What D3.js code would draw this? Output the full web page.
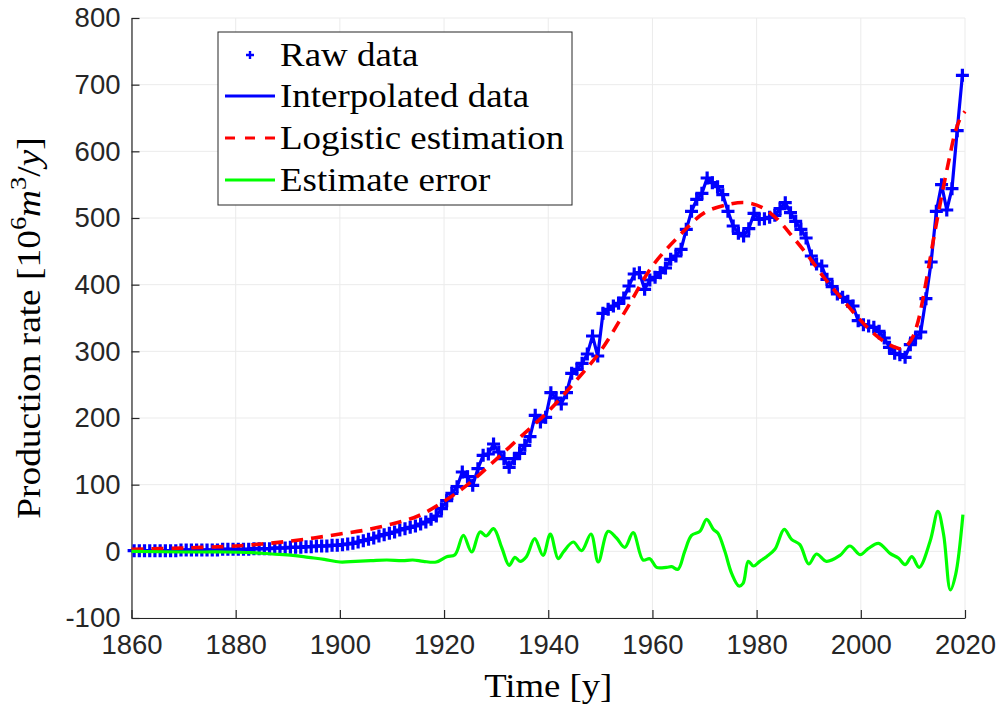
<!DOCTYPE html>
<html>
<head>
<meta charset="utf-8">
<script src="https://cdn.jsdelivr.net/npm/d3@7/dist/d3.min.js"></script>
<style>
  body { margin: 0; background: #fff; }
  .tick text { font-family: 'Liberation Sans', Arial, sans-serif; fill: #262626; }
  .tex { font-family: 'Liberation Serif', 'Times New Roman', serif; fill: #000; }
</style>
</head>
<body>
<div id="viz"></div>
<script>
// raw production data, one value per year (plotted at mid-year)
var rawYears = d3.range(1860, 2020);
var rawValues = [
  1, 1, 1, 1, 1, 1, 1, 1, 1, 2,
  2, 2, 2, 2, 2, 2, 2, 3, 3, 3,
  3, 3, 3, 4, 4, 4, 4, 5, 5, 5,
  6, 6, 6, 7, 7, 8, 8, 8, 9, 9,
  10, 11, 12, 14, 16, 18, 20, 23, 25, 27,
  29, 32, 34, 36, 38, 41, 44, 48, 53, 64,
  76, 87, 97, 119, 112, 99, 124, 144, 146, 161,
  149, 139, 126, 139, 147, 159, 172, 204, 194, 201,
  238, 230, 221, 238, 267, 273, 282, 296, 323, 293,
  357, 363, 368, 372, 380, 398, 416, 418, 393, 407,
  411, 418, 425, 438, 443, 453, 483, 510, 528, 537,
  560, 553, 547, 535, 510, 488, 477, 473, 484, 507,
  498, 499, 501, 504, 514, 523, 508, 495, 483, 470,
  443, 431, 428, 408, 397, 386, 381, 375, 368, 346,
  340, 338, 336, 330, 320, 306, 297, 295, 291, 310,
  320, 329, 379, 434, 510, 550, 512, 544, 631, 714
];

// logistic estimation
var logYears = [1860, 1870, 1880, 1885, 1890, 1895, 1900, 1905, 1910, 1915,
  1920, 1925, 1930, 1935, 1940, 1945, 1950, 1955, 1960, 1965,
  1970, 1975, 1978, 1981, 1984, 1987, 1990, 1993, 1996, 1999,
  2002, 2005, 2007, 2008, 2009, 2010, 2011, 2012, 2013, 2014,
  2015, 2016, 2017, 2018, 2019, 2020];
var logValues = [3, 5, 8, 11, 15, 20, 26, 32, 41, 53,
  75, 103, 138, 174, 210, 253, 300, 363, 428, 472,
  508, 521, 523, 516, 498, 471, 442, 410, 382, 355,
  330, 312, 305, 304, 310, 322, 345, 382, 425, 470,
  512, 552, 590, 625, 648, 660];

// estimate error
var errYears = [1860, 1870, 1878, 1883, 1887, 1891, 1894, 1897, 1900, 1903,
  1906, 1909, 1912, 1914, 1916, 1918.5, 1920.5, 1922.1, 1923.7, 1925.3,
  1926.9, 1928.1, 1929.5, 1931.1, 1932.5, 1933.6, 1934.6, 1935.8, 1937.4, 1939.0,
  1940.4, 1941.9, 1942.9, 1944.8, 1946.4, 1948.2, 1949.6, 1951.5, 1953.1, 1954.7,
  1956.3, 1958.2, 1959.5, 1960.8, 1962.7, 1963.7, 1964.9, 1966.2, 1967.5, 1969.1,
  1970.4, 1971.7, 1972.6, 1973.9, 1975.2, 1976.6, 1977.4, 1978.4, 1979.4, 1980.6,
  1981.9, 1983.5, 1985.3, 1986.7, 1988.3, 1990.0, 1991.5, 1993.4, 1996.0, 1997.9,
  1999.9, 2001.4, 2003.4, 2005.6, 2007.2, 2008.5, 2009.8, 2011.2, 2013.3, 2014.8,
  2015.9, 2017.2, 2018.2, 2019.6];
var errValues = [0, -1, -1, -2, -4, -6, -9, -12, -16, -15,
  -14, -13, -14, -13, -15, -16, -8, -5, 24, -1,
  29, 23, 34, 5, -21, -9, -15, -8, 19, -6,
  26, -11, -1, 14, 1, 26, -16, 30, 20, 6,
  28, -13, -11, -24, -24, -23, -27, 0, 24, 30,
  48, 33, 27, 0, -33, -52, -48, -15, -22, -15,
  -8, 3, 33, 18, 10, -19, -4, -15, -6, 8,
  -5, 4, 12, -3, -10, -20, -8, -24, 15, 60,
  25, -58, -35, 55];

var xTicks = [1860, 1880, 1900, 1920, 1940, 1960, 1980, 2000, 2020];
var yTicks = [-100, 0, 100, 200, 300, 400, 500, 600, 700, 800];
var legendLabels = ['Raw data', 'Interpolated data', 'Logistic estimation', 'Estimate error'];

var width = 1001, height = 705;
var margin = { top: 18, right: 36, bottom: 87, left: 131.5 };
var texSize = 33;

var svg = d3.select('#viz').append('svg')
  .attr('width', width)
  .attr('height', height);

var x = d3.scaleLinear().domain([1860, 2020]).range([margin.left, width - margin.right]);
var y = d3.scaleLinear().domain([-100, 800]).range([height - margin.bottom, margin.top]);

// grid
var grid = svg.append('g').attr('class', 'grid');
grid.selectAll('line.gx').data(xTicks).enter().append('line')
  .attr('x1', function (d) { return x(d); })
  .attr('x2', function (d) { return x(d); })
  .attr('y1', y(-100)).attr('y2', y(800))
  .attr('stroke', '#ebebeb').attr('stroke-width', 1);
grid.selectAll('line.gy').data(yTicks).enter().append('line')
  .attr('y1', function (d) { return y(d); })
  .attr('y2', function (d) { return y(d); })
  .attr('x1', x(1860)).attr('x2', x(2020))
  .attr('stroke', '#ebebeb').attr('stroke-width', 1);

// axes (ticks point inward, no box)
var xAxis = svg.append('g')
  .attr('transform', 'translate(0,' + y(-100) + ')')
  .call(d3.axisBottom(x).tickValues(xTicks).tickFormat(d3.format('d'))
    .tickSizeInner(-8).tickSizeOuter(0).tickPadding(16));
var yAxis = svg.append('g')
  .attr('transform', 'translate(' + x(1860) + ',0)')
  .call(d3.axisLeft(y).tickValues(yTicks).tickFormat(function (d) { return d < 0 ? '-' + Math.abs(d) : d; })
    .tickSizeInner(-8).tickSizeOuter(0).tickPadding(11));
[xAxis, yAxis].forEach(function (a) {
  a.select('.domain').attr('stroke', '#262626').attr('stroke-width', 1.2);
  a.selectAll('.tick line').attr('stroke', '#262626').attr('stroke-width', 1.2);
  a.selectAll('.tick text').attr('font-size', 27.5);
});

var plot = svg.append('g');

// interpolated data line
var rawPts = rawYears.map(function (d, i) { return [d + 0.5, rawValues[i]]; });
plot.append('path')
  .datum(rawPts)
  .attr('fill', 'none')
  .attr('stroke', '#0000ff')
  .attr('stroke-width', 3.2)
  .attr('d', d3.line().x(function (d) { return x(d[0]); }).y(function (d) { return y(d[1]); }));

// raw data markers
plot.selectAll('path.mk').data(rawPts).enter().append('path')
  .attr('class', 'mk')
  .attr('transform', function (d) { return 'translate(' + x(d[0]) + ',' + y(d[1]) + ')'; })
  .attr('d', 'M-6.5,0H6.5M0,-6.5V6.5')
  .attr('stroke', '#0000ff')
  .attr('stroke-width', 3.2);

// logistic estimation
var logPts = logYears.map(function (d, i) { return [d, logValues[i]]; });
plot.append('path')
  .datum(logPts)
  .attr('fill', 'none')
  .attr('stroke', '#ff0000')
  .attr('stroke-width', 3.6)
  .attr('stroke-dasharray', '12,8')
  .attr('d', d3.line().curve(d3.curveCatmullRom).x(function (d) { return x(d[0]); }).y(function (d) { return y(d[1]); }));

// estimate error
var errPts = errYears.map(function (d, i) { return [d, errValues[i]]; });
plot.append('path')
  .datum(errPts)
  .attr('fill', 'none')
  .attr('stroke', '#00ff00')
  .attr('stroke-width', 3.2)
  .attr('stroke-linejoin', 'round')
  .attr('d', d3.line().curve(d3.curveCatmullRom).x(function (d) { return x(d[0]); }).y(function (d) { return y(d[1]); }));

// axis labels
svg.append('text')
  .attr('class', 'tex')
  .attr('transform', 'translate(' + (x(1860) + x(2020)) / 2 + ',697) scale(1.08,1)')
  .attr('text-anchor', 'middle')
  .attr('font-size', texSize + 1)
  .text('Time [y]');

var yl = svg.append('text')
  .attr('class', 'tex')
  .attr('transform', 'translate(40,' + ((y(-100) + y(800)) / 2 + 10) + ') rotate(-90) scale(1.1,1)')
  .attr('text-anchor', 'middle')
  .attr('font-size', texSize + 1);
yl.append('tspan').text('Production rate [10');
yl.append('tspan').attr('dy', -14).attr('font-size', 24).text('6');
yl.append('tspan').attr('dy', 14).attr('font-style', 'italic').text('m');
yl.append('tspan').attr('dy', -14).attr('font-size', 24).text('3');
yl.append('tspan').attr('dy', 14).text('/');
yl.append('tspan').attr('font-style', 'italic').text('y');
yl.append('tspan').text(']');

// legend
var legend = svg.append('g').attr('transform', 'translate(218,32)');
legend.append('rect')
  .attr('width', 354).attr('height', 173)
  .attr('fill', '#fff').attr('stroke', '#262626').attr('stroke-width', 1);
var rowY = [23, 64, 106, 148];
var rows = legend.selectAll('g.row').data(legendLabels).enter().append('g')
  .attr('class', 'row')
  .attr('transform', function (d, i) { return 'translate(0,' + rowY[i] + ')'; });
rows.append('text')
  .attr('class', 'tex')
  .attr('transform', 'translate(62,11) scale(1.12,1)')
  .attr('font-size', texSize)
  .text(function (d) { return d; });
rows.filter(function (d, i) { return i === 0; }).append('path')
  .attr('d', 'M28,0H36M32,-4V4')
  .attr('stroke', '#0000ff').attr('stroke-width', 2.4);
rows.filter(function (d, i) { return i > 0; }).append('line')
  .attr('x1', 7).attr('x2', 57)
  .attr('stroke', function (d, i) { return ['#0000ff', '#ff0000', '#00ff00'][i]; })
  .attr('stroke-width', 3)
  .attr('stroke-dasharray', function (d, i) { return i === 1 ? '10,10' : null; });
</script>
</body>
</html>
